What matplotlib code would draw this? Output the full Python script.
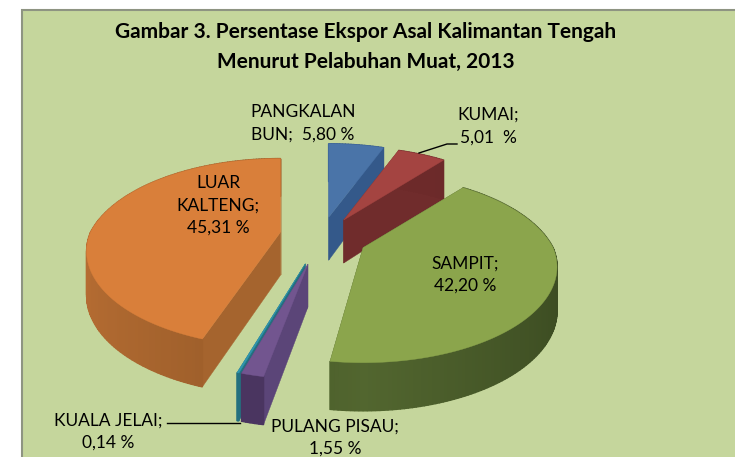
import matplotlib
matplotlib.use('Agg')
import matplotlib.pyplot as plt
from matplotlib.colors import to_rgb
from matplotlib.patches import Rectangle
import numpy as np

names = ['PANGKALAN\nBUN;  ', 'KUMAI;\n', 'SAMPIT;\n', 'PULANG PISAU;\n', 'KUALA JELAI;\n', 'LUAR\nKALTENG;\n']
values = [5.80, 5.01, 42.20, 1.55, 0.14, 45.31]
value_labels = ['5,80 %', '5,01  %', '42,20 %', '1,55 %', '0,14 %', '45,31 %']
title_lines = ['Gambar 3. Persentase Ekspor Asal Kalimantan Tengah',
               'Menurut Pelabuhan Muat, 2013']

top_colors = ['#4a74a8', '#a44441', '#8ba54c', '#72558f', '#2f96ae', '#d97f3a']
wall_front = ['#34598a', '#702c2c', '#52662f', '#4a3560', '#23707f', '#955a28']
wall_side = ['#34598a', '#6a2828', '#3c4c22', '#4a3560', '#23707f', '#b56c32']
cut_colors = ['#34598a', '#702c2c', '#4e612c', '#5b4578', '#23707f', '#a5642e']
label_pos = [(303, 123.5), (488, 126), (465, 274.5), (335, 437.5), (108, 431.5), (218, 205.5)]

# pie geometry, in pixels
CX, CY = 320, 240
RX, RY = 190, 92
PERSP_BACK = 0.25
PERSP_FRONT = 0.20
HEIGHT = 43
explode = [0.25, 0.25, 0.25, 0.27, 0.27, 0.21]
nudge_y = [0, 0, -2, 0, 0, -5]
start_trim_deg = [0, 0, 0, 0, 0, 2.6]
end_trim_deg = [0, 0, 2.8, 0, 0, 0]
draw_order = [0, 1, 5, 2, 4, 3]


def project(theta, radius, centre, drop=0.0):
    u = radius * np.sin(theta)
    v = radius * np.cos(theta)
    s = 1 / (1 + np.where(v > 0, PERSP_BACK, PERSP_FRONT) * v)
    x = centre[0] + RX * u * s
    y = centre[1] - RY * v * s + drop * HEIGHT * (1 - 0.12 * v)
    return x, y


def draw_slice(ax, start, end, i):
    mid = (start + end) / 2
    centre = (CX + explode[i] * RX * np.sin(mid),
              CY - explode[i] * RY * np.cos(mid) + nudge_y[i])
    start = start + np.radians(start_trim_deg[i])
    end = end - np.radians(end_trim_deg[i])
    n = max(int(np.degrees(end - start)), 2)
    thetas = np.linspace(start, end, n + 1)

    # cut faces
    for edge in (start, end):
        x0, y0 = project(edge, 0, centre)
        x1, y1 = project(edge, 1, centre)
        x2, y2 = project(edge, 1, centre, 1)
        x3, y3 = project(edge, 0, centre, 1)
        ax.fill([x0, x1, x2, x3], [y0, y1, y2, y3], color=cut_colors[i], lw=0.3, zorder=2)

    # outer rim, shaded along the arc
    front = np.array(to_rgb(wall_front[i]))
    side = np.array(to_rgb(wall_side[i]))
    for a, b in zip(thetas[:-1], thetas[1:]):
        xa, ya = project(a, 1, centre)
        xb, yb = project(b, 1, centre)
        xc, yc = project(b, 1, centre, 1)
        xd, yd = project(a, 1, centre, 1)
        t = abs(np.sin((a + b) / 2))
        ax.fill([xa, xb, xc, xd], [ya, yb, yc, yd], color=front + (side - front) * t, lw=1, zorder=2)

    # top face
    xs, ys = project(thetas, 1, centre)
    ax.fill(np.concatenate(([centre[0]], xs)), np.concatenate(([centre[1]], ys)),
            color=top_colors[i], lw=0.3, zorder=2)


plt.rcParams['font.family'] = ['Lato', 'DejaVu Sans']
fig = plt.figure(figsize=(7.35, 4.57), dpi=100)
ax = fig.add_axes([0, 0, 1, 1])
ax.set_xlim(0, 735)
ax.set_ylim(457, 0)
ax.axis('off')

ax.add_patch(Rectangle((22.5, 9.5), 760, 500, facecolor='#c5d69c', edgecolor='#8e9482', lw=1.5, zorder=0))

edges = np.radians(np.cumsum([0] + values) / np.sum(values) * 360)
for i in draw_order:
    draw_slice(ax, edges[i], edges[i + 1], i)

# leader lines
ax.plot([457, 447, 419], [144, 144, 153], color='black', lw=1, zorder=3)
ax.plot([167, 240], [423, 423], color='black', lw=1, zorder=3)

for name, val, pos in zip(names, value_labels, label_pos):
    ax.text(pos[0], pos[1], name + val, ha='center', va='center', fontsize=12.5,
            color='black', linespacing=1.5, zorder=4)

ax.text(366, 32, title_lines[0], ha='center', va='center', fontsize=15, fontweight='bold', zorder=4)
ax.text(366, 62, title_lines[1], ha='center', va='center', fontsize=15, fontweight='bold', zorder=4)

plt.savefig('out.png', dpi=100)
plt.close()
